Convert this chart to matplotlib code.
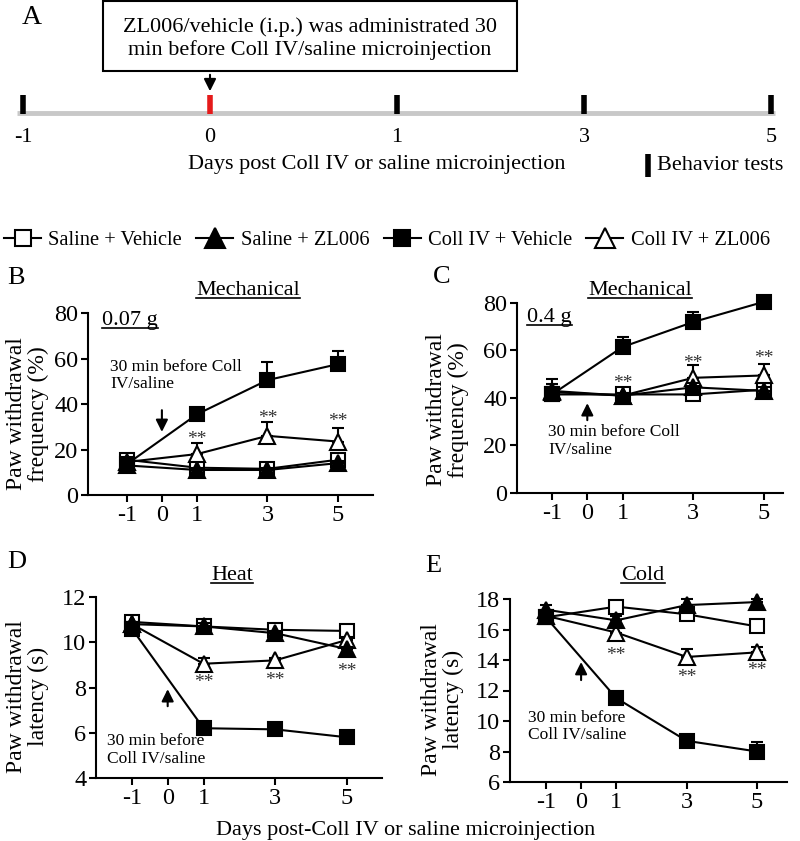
import matplotlib
matplotlib.use("Agg")
import numpy as np
import matplotlib.pyplot as plt
from matplotlib.lines import Line2D
from matplotlib.patches import Rectangle

plt.rcParams['font.family'] = ['Liberation Serif', 'DejaVu Serif']

# %% datos
days = [-1, 1, 3, 5]
timeline_days = ['-1', '0', '1', '3', '5']
groups = ['Saline + Vehicle', 'Saline + ZL006', 'Coll IV + Vehicle', 'Coll IV + ZL006']

# B: mecanico 0.07 g (frecuencia %)
b_sal_veh = [15.5, 12, 11.5, 15.5]
b_sal_zl = [13, 11, 11, 14]
b_col_veh = [13.5, 35.5, 50.5, 57.5]
b_col_zl = [14.5, 18, 26, 23.5]
b_err_sal_veh = [1.5, 1, 1, 1.5]
b_err_sal_zl = [1, 1, 1, 1]
b_err_col_veh = [1.5, 1.5, 8, 6]
b_err_col_zl = [1.5, 5, 6, 6]

# C: mecanico 0.4 g
c_sal_veh = [41.5, 41.5, 41.5, 43.5]
c_sal_zl = [43, 41, 44.5, 43]
c_col_veh = [41.5, 61.5, 72, 80.5]
c_col_zl = [42.5, 41, 48.5, 49.5]
c_err_sal_veh = [2, 1, 1.5, 1.5]
c_err_sal_zl = [3, 1, 2, 1.5]
c_err_col_veh = [3, 4, 4, 1.5]
c_err_col_zl = [5.5, 1, 5.5, 5]

# D: calor (latencia s)
d_sal_veh = [10.9, 10.7, 10.55, 10.5]
d_sal_zl = [10.8, 10.7, 10.4, 9.7]
d_col_veh = [10.6, 6.2, 6.15, 5.8]
d_col_zl = [10.8, 9.05, 9.2, 10.1]
d_err_sal_veh = [0.1, 0.1, 0.1, 0.15]
d_err_sal_zl = [0.1, 0.15, 0.1, 0.1]
d_err_col_veh = [0.1, 0.1, 0.1, 0.1]
d_err_col_zl = [0.1, 0.25, 0.1, 0.15]

# E: frio (latencia s)
e_sal_veh = [16.8, 17.5, 17.0, 16.2]
e_sal_zl = [17.3, 16.6, 17.6, 17.8]
e_col_veh = [16.8, 11.5, 8.7, 8.0]
e_col_zl = [16.9, 15.8, 14.2, 14.5]
e_err_sal_veh = [0.2, 0.3, 0.2, 0.2]
e_err_sal_zl = [0.3, 0.3, 0.4, 0.2]
e_err_col_veh = [0.2, 0.2, 0.2, 0.6]
e_err_col_zl = [0.2, 0.3, 0.55, 0.35]

# posiciones de los asteriscos (**)
b_star_y = [24.5, 33.5, 32.5]
c_star_y = [46, 54.5, 56.5]
d_star_y = [8.2, 8.3, 8.7]
e_star_y = [14.3, 12.85, 13.3]
star_days = [1, 3, 5]

# estilo de cada grupo: (marker, facecolor)
styles = [('s', 'white'), ('^', 'black'), ('s', 'black'), ('^', 'white')]
draw_order = [0, 3, 1, 2]

fig = plt.figure(figsize=(8, 8.41), dpi=100)
W, H = 800, 841


def px_rect(left, top_px, right, bottom_px):
    return [left / W, 1 - bottom_px / H, (right - left) / W, (bottom_px - top_px) / H]


def make_panel(rect, xlim, ylim, yticks):
    ax = fig.add_axes(rect)
    ax.set_xlim(xlim)
    ax.set_ylim(ylim)
    ax.set_xticks([-1, 0, 1, 3, 5])
    ax.set_xticklabels(timeline_days)
    ax.set_yticks(yticks)
    for s in ['top', 'right']:
        ax.spines[s].set_visible(False)
    for s in ['left', 'bottom']:
        ax.spines[s].set_linewidth(1.5)
    ax.tick_params(direction='out', length=5, width=1.5, labelsize=17.5, pad=2)
    return ax


def plot_groups(ax, series, errors):
    for k, i in enumerate(draw_order):
        m, fc = styles[i]
        y = series[i]
        ax.errorbar(days, y, yerr=[np.zeros(len(y)), errors[i]], fmt='none', ecolor='k',
                    elinewidth=1.5, capsize=4, capthick=1.5, zorder=2 + 2 * k, clip_on=False)
        ms = 9.5 if m == 's' else 11.5
        ax.plot(days, y, color='k', lw=1.5, marker=m, ms=ms, mfc=fc, mec='k', mew=1.5,
                zorder=3 + 2 * k, clip_on=False)


def stars(ax, ys):
    for x, y in zip(star_days, ys):
        ax.text(x, y, '**', ha='center', va='center', fontsize=14, color='#333333')


def ylab(ax, text, x, y):
    ax.text(x, y, text, transform=ax.transAxes, rotation=90, ha='center', va='center',
            fontsize=17, linespacing=1.05)


titles = []

# %% Panel A (linea de tiempo)
ax_a = fig.add_axes([0, 1 - 185 / H, 1, 185 / H])
ax_a.set_xlim(-23 / 187, 777 / 187)
ax_a.set_ylim(185, 0)
ax_a.axis('off')
idx = np.arange(len(timeline_days))
ax_a.plot([-0.03, 4.02], [113, 113], color='#c8c8c8', lw=3.5, solid_capstyle='butt', zorder=1)
tick_colors = ['k', '#e51a1a', 'k', 'k', 'k']
ax_a.vlines(idx, 95, 114, colors=tick_colors, lw=4, zorder=2)
for i, lab in zip(idx, timeline_days):
    ax_a.text(i, 137, lab, ha='center', va='center', fontsize=16)
ax_a.add_patch(Rectangle((0.428, 1), 2.214, 70, fc='white', ec='k', lw=1.5))
ax_a.text(1.535, 38.5, 'ZL006/vehicle (i.p.) was administrated 30\nmin before Coll IV/saline microinjection',
          ha='center', va='center', fontsize=16, linespacing=1.2)
ax_a.annotate('', xy=(1, 94), xytext=(1, 72),
              arrowprops=dict(arrowstyle='-|>', color='k', lw=1.5, mutation_scale=18))
ax_a.text(1.893, 165, 'Days post Coll IV or saline microinjection', ha='center', va='center', fontsize=16)
ax_a.vlines([3.342], 154, 177, colors='k', lw=4)
ax_a.text(3.39, 165, 'Behavior tests', ha='left', va='center', fontsize=16)

fig.text(32 / W, 1 - 17 / H, 'A', ha='center', va='center', fontsize=20)

# %% Leyenda
handles = []
for m, fc in styles:
    handles.append(Line2D([], [], color='k', lw=1.5, marker=m, ms=12 if m == 's' else 14,
                          mfc=fc, mec='k', mew=1.5))
fig.legend(handles, groups, loc='center left', bbox_to_anchor=(4 / W, 1 - 240 / H), ncol=4,
           frameon=False, fontsize=14.8, handlelength=1.8, handletextpad=0.35,
           columnspacing=0.7, borderaxespad=0, borderpad=0)

# %% Panel B
ax_b = make_panel(px_rect(88, 313, 373, 495), (-2.1, 6.0), (0, 80), [0, 20, 40, 60, 80])
plot_groups(ax_b, [b_sal_veh, b_sal_zl, b_col_veh, b_col_zl],
            [b_err_sal_veh, b_err_sal_zl, b_err_col_veh, b_err_col_zl])
stars(ax_b, b_star_y)
ax_b.text(-1.475, 60, '30 min before Coll\nIV/saline', ha='left', va='top', fontsize=12.5, linespacing=1.15)
ax_b.annotate('', xy=(0, 26.5), xytext=(0, 38.5),
              arrowprops=dict(arrowstyle='-|>', color='k', lw=1.5, mutation_scale=18))
ylab(ax_b, 'Paw withdrawal\nfrequency (%)', -0.214, 0.445)
titles.append(ax_b.text(0.561, 1.099, 'Mechanical', transform=ax_b.transAxes, ha='center', va='baseline', fontsize=16))
titles.append(ax_b.text(0.049, 0.934, '0.07 g', transform=ax_b.transAxes, ha='left', va='baseline', fontsize=16))
fig.text(16 / W, 1 - 278 / H, 'B', ha='center', va='center', fontsize=19)

# %% Panel C
ax_c = make_panel(px_rect(517, 303, 783, 493), (-1.99, 5.54), (0, 80), [0, 20, 40, 60, 80])
plot_groups(ax_c, [c_sal_veh, c_sal_zl, c_col_veh, c_col_zl],
            [c_err_sal_veh, c_err_sal_zl, c_err_col_veh, c_err_col_zl])
stars(ax_c, c_star_y)
ax_c.text(-1.11, 29, '30 min before Coll\nIV/saline', ha='left', va='top', fontsize=12.5, linespacing=1.15)
ax_c.annotate('', xy=(0, 39), xytext=(0, 29.5),
              arrowprops=dict(arrowstyle='-|>', color='k', lw=1.5, mutation_scale=18))
ylab(ax_c, 'Paw withdrawal\nfrequency (%)', -0.263, 0.437)
titles.append(ax_c.text(0.462, 1.042, 'Mechanical', transform=ax_c.transAxes, ha='center', va='baseline', fontsize=16))
titles.append(ax_c.text(0.038, 0.9, '0.4 g', transform=ax_c.transAxes, ha='left', va='baseline', fontsize=16))
fig.text(442 / W, 1 - 277 / H, 'C', ha='center', va='center', fontsize=19)

# %% Panel D
ax_d = make_panel(px_rect(96, 597, 382, 778), (-2.0, 5.98), (4, 12), [4, 6, 8, 10, 12])
plot_groups(ax_d, [d_sal_veh, d_sal_zl, d_col_veh, d_col_zl],
            [d_err_sal_veh, d_err_sal_zl, d_err_col_veh, d_err_col_zl])
stars(ax_d, d_star_y)
ax_d.text(-1.69, 6.0, '30 min before\nColl IV/saline', ha='left', va='top', fontsize=12.5, linespacing=1.15)
ax_d.annotate('', xy=(0, 8.05), xytext=(0, 7.05),
              arrowprops=dict(arrowstyle='-|>', color='k', lw=1.5, mutation_scale=18))
ylab(ax_d, 'Paw withdrawal\nlatency (s)', -0.241, 0.45)
titles.append(ax_d.text(0.476, 1.094, 'Heat', transform=ax_d.transAxes, ha='center', va='baseline', fontsize=16))
fig.text(17 / W, 1 - 562 / H, 'D', ha='center', va='center', fontsize=19)

# %% Panel E
ax_e = make_panel(px_rect(510, 599, 787, 782), (-2.02, 5.85), (6, 18), [6, 8, 10, 12, 14, 16, 18])
plot_groups(ax_e, [e_sal_veh, e_sal_zl, e_col_veh, e_col_zl],
            [e_err_sal_veh, e_err_sal_zl, e_err_col_veh, e_err_col_zl])
stars(ax_e, e_star_y)
ax_e.text(-0.12, 10.75, '30 min before\nColl IV/saline', ha='center', va='top', fontsize=12.5, linespacing=1.15)
ax_e.annotate('', xy=(0, 14.05), xytext=(0, 12.5),
              arrowprops=dict(arrowstyle='-|>', color='k', lw=1.5, mutation_scale=18))
ylab(ax_e, 'Paw withdrawal\nlatency (s)', -0.245, 0.45)
titles.append(ax_e.text(0.48, 1.104, 'Cold', transform=ax_e.transAxes, ha='center', va='baseline', fontsize=16))
fig.text(433 / W, 1 - 566 / H, 'E', ha='center', va='center', fontsize=19)

fig.text(406 / W, 1 - 830 / H, 'Days post-Coll IV or saline microinjection', ha='center', va='center', fontsize=16)

# %% subrayados
fig.canvas.draw()
renderer = fig.canvas.get_renderer()
inv = fig.transFigure.inverted()
for t in titles:
    bb = t.get_window_extent(renderer)
    x0, y0 = t.get_transform().transform(t.get_position())
    yl = y0 - 3
    (fx0, fy), (fx1, _) = inv.transform([(bb.x0, yl), (bb.x1, yl)])
    fig.add_artist(Line2D([fx0, fx1], [fy, fy], color='k', lw=1.2))

fig.savefig('out.png', dpi=100)
